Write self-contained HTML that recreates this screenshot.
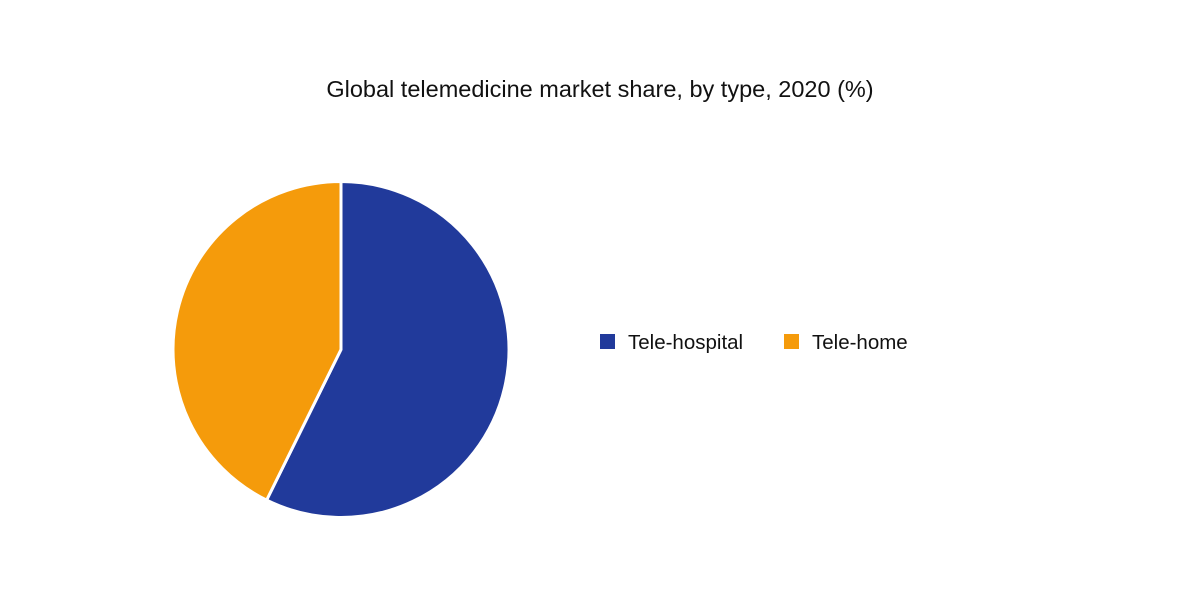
<!DOCTYPE html>
<html>
<head>
<meta charset="utf-8">
<style>
  html,body{margin:0;padding:0;background:#fff;}
  body{width:1200px;height:600px;overflow:hidden;font-family:"Liberation Sans",sans-serif;}
</style>
</head>
<body>
<svg width="1200" height="600" viewBox="0 0 1200 600">
  <text x="600" y="97" text-anchor="middle" font-size="23.5" fill="#111" font-family="Liberation Sans, sans-serif">Global telemedicine market share, by type, 2020 (%)</text>
  <g id="slices"></g>
  <g>
    <g>
      <rect x="600" y="334" width="15" height="15" fill="#213a9b"/>
      <text x="628" y="349" font-size="20.5" fill="#111">Tele-hospital</text>
    </g>
    <g>
      <rect x="784" y="334" width="15" height="15" fill="#f59b0b"/>
      <text x="812" y="349" font-size="20.5" fill="#111">Tele-home</text>
    </g>
  </g>
</svg>
<script>
const categories = ["Tele-hospital", "Tele-home"];
const shares = [57.3, 42.7];
const colors = ["#213a9b", "#f59b0b"];

const cx = 341, cy = 349.5, r = 168;
const g = document.getElementById('slices');
const total = shares.reduce((a,b)=>a+b,0);
let start = 0;
function pt(a){ return [cx + r*Math.sin(a), cy - r*Math.cos(a)]; }
shares.forEach((v,i)=>{
  const a0 = start/total*2*Math.PI;
  const a1 = (start+v)/total*2*Math.PI;
  start += v;
  const [x0,y0] = pt(a0), [x1,y1] = pt(a1);
  const large = (a1-a0) > Math.PI ? 1 : 0;
  const p = document.createElementNS('http://www.w3.org/2000/svg','path');
  p.setAttribute('d', `M${cx},${cy} L${x0},${y0} A${r},${r} 0 ${large} 1 ${x1},${y1} Z`);
  p.setAttribute('fill', colors[i]);
  p.setAttribute('stroke', '#fff');
  p.setAttribute('stroke-width', '3');
  p.setAttribute('stroke-linejoin', 'round');
  
  
  g.appendChild(p);
});
</script>
</body>
</html>
